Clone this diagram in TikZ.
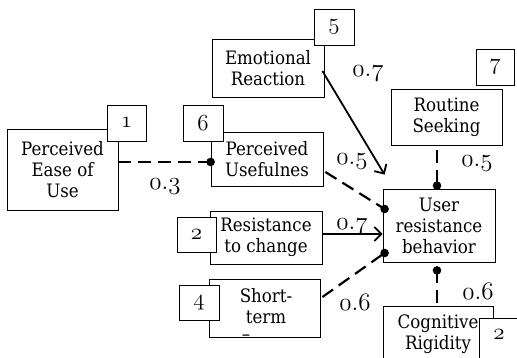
\RequirePackage{fix-cm}
\documentclass[tikz,border=0pt]{standalone}
\usepackage{fontspec}
\setmainfont{DejaVu Serif Condensed}
\usetikzlibrary{arrows.meta,calc}
% old-style digits from the math italic font; ':' gives the period there
\newcommand\osn[1]{{\fontsize{23}{23}\usefont{OML}{cmm}{m}{it}#1}}
\newcommand\osl[1]{{\fontsize{25}{25}\usefont{OML}{cmm}{m}{it}#1}}
\tikzset{
  box/.style={draw, line width=0.8pt, fill=white, align=center, inner sep=0pt,
    font=\fontsize{18.5}{21}\selectfont},
  numbox/.style={box},
  txt/.style={align=center, inner sep=0pt, font=\fontsize{18.5}{21}\selectfont},
  lbl/.style={inner sep=0pt},
  dline/.style={line width=2.2pt, dash pattern=on 13pt off 7pt},
  aline/.style={line width=1.8pt, -{Straight Barb[length=7pt,width=14pt,line width=1.8pt]}},
  dotc/.style={fill=black},
}
\begin{document}
\begin{tikzpicture}[x=1pt,y=-1pt]
\useasboundingbox (0,0) rectangle (517,357);
\clip (0,0) rectangle (517,357);
% main boxes
\node[box, minimum width=111pt, minimum height=81pt] (PEU) at (62.5,169.5) {Perceived\\Ease of\\Use};
\node[box, minimum width=112pt, minimum height=54pt] (PU) at (267,159) {Perceived\\Usefulnes};
\node[box, minimum width=112pt, minimum height=58pt] (ER) at (268,68) {Emotional\\Reaction};
\node[box, minimum width=111pt, minimum height=56pt] (RS) at (446.5,117) {Routine\\Seeking};
\node[box, minimum width=112pt, minimum height=73pt] (URB) at (439,225.5) {User\\resistance\\behavior};
\node[box, minimum width=112pt, minimum height=53pt] (RTC) at (266,237.5) {Resistance\\to change};
\node[box, minimum width=111pt, minimum height=58pt] (ST) at (264.5,308) {};
\node[txt] (STt) at (266,306) {Short-\\term};
\node[txt] (STdash) at (246,338) {--};
\node[box, minimum width=110pt, minimum height=64pt, anchor=north] (CR) at (438,306) {};
\node[txt] (CRt) at (438,334.5) {Cognitive\\Rigidity};
% number boxes
\node[numbox, minimum width=39pt, minimum height=36pt] (n1) at (126.5,123) {\osn{1}};
\node[numbox, minimum width=40pt, minimum height=36pt] (n6) at (203,123) {\osn{6}};
\node[numbox, minimum width=40pt, minimum height=36pt] (n5) at (334,27) {\osn{5}};
\node[numbox, minimum width=38pt, minimum height=36pt] (n7) at (495,67) {\osn{7}};
\node[numbox, minimum width=39pt, minimum height=35pt] (n2a) at (196.5,234.5) {\osn{2}};
\node[numbox, minimum width=40pt, minimum height=35pt] (n4) at (199,302.5) {\osn{4}};
\node[numbox, minimum width=42pt, minimum height=50pt, anchor=north west] (n2b) at (479,318) {};
\node[txt] (n2bt) at (499,335) {\osn{2}};
% connector points
\coordinate (dPU) at ([yshift=-3pt]PU.west);
\coordinate (dRS) at ([shift={(-2pt,3pt)}]URB.north);
\coordinate (dPU2) at ([shift={(2pt,16.5pt)}]URB.west);
\coordinate (dST) at ([shift={(2pt,-27.5pt)}]URB.west);
\coordinate (dCR) at ([shift={(-2pt,-8pt)}]URB.south);
\coordinate (erS) at ([shift={(-2pt,-3pt)}]ER.east);
\coordinate (erE) at ([shift={(2pt,14pt)}]URB.north west);
\coordinate (rsS) at ($(dRS |- RS.south)+(0,5)$);
\coordinate (puS) at ([shift={(2pt,-13pt)}]PU.east);
\coordinate (rtS) at ([yshift=3.5pt]RTC.east);
\coordinate (stS) at ([shift={(2pt,11pt)}]ST.east);
% connectors
\draw[dline] (PEU.east |- dPU) -- (dPU);
\draw[dline] (puS) -- (dPU2);
\draw[dline] (rsS) -- (dRS);
\draw[dline] (stS) -- (dST);
\draw[dline] (dCR) -- (dCR |- CR.north);
\draw[aline] (erS) -- (erE);
\draw[aline] (rtS) -- (URB.west |- rtS);
\foreach \p in {dPU,dRS,dPU2,dST,dCR} \fill[dotc] (\p) circle (4.3pt);
% labels
\node[lbl] (l1) at (165,187) {\osl{0:3}};
\node[lbl] (l2) at (352,162) {\osl{0:5}};
\node[lbl] (l3) at (368,74) {\osl{0:7}};
\node[lbl] (l4) at (477,164) {\osl{0:5}};
\node[lbl] (l5) at (352,227) {\osl{0:7}};
\node[lbl] (l6) at (355,302) {\osl{0:6}};
\node[lbl] (l7) at (478,291) {\osl{0:6}};
\end{tikzpicture}
\end{document}
